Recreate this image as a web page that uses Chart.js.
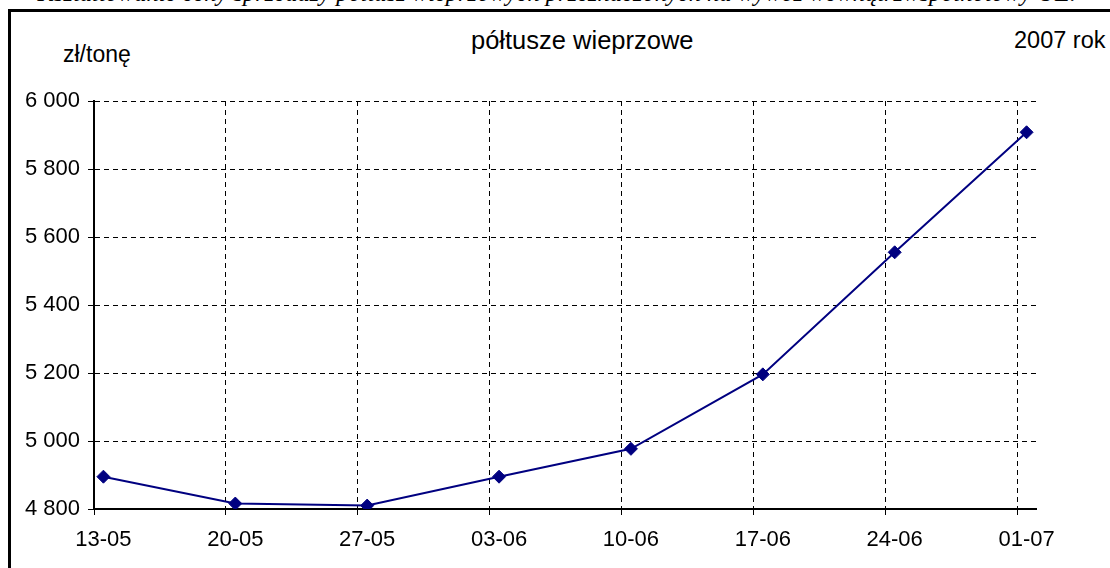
<!DOCTYPE html>
<html>
<head>
<meta charset="utf-8">
<script src="https://cdn.jsdelivr.net/npm/chart.js@4"></script>
<style>
body{margin:0;background:#fff;width:1110px;height:568px;overflow:hidden;position:relative;font-family:"Liberation Sans",Arial,sans-serif;}
#caption{position:absolute;right:34px;top:-20px;white-space:nowrap;font:italic 24.5px "Liberation Serif","Times New Roman",serif;line-height:25px;}
#frame{position:absolute;left:8px;top:9px;width:1200px;height:700px;border-left:3px solid #000;border-top:3px solid #000;}
.lbl{position:absolute;font-size:23px;line-height:23px;white-space:nowrap;color:#000;}
canvas{position:absolute;left:0;top:0;}
</style>
</head>
<body>
<div id="caption">Kształtowanie ceny sprzedaży półtusz wieprzowych przeznaczonych na wywóz wewnątrzwspólnotowy UE.</div>
<div id="frame"></div>
<div class="lbl" style="left:63px;top:43px;">zł/tonę</div>
<div class="lbl" style="left:471px;top:29px;font-size:25.5px;">półtusze wieprzowe</div>
<div class="lbl" style="left:1014px;top:29px;font-size:23.5px;">2007 rok</div>
<canvas id="chart" width="1110" height="568"></canvas>
<script>
// ================= DATA =================
const dateLabels = ["13-05", "20-05", "27-05", "03-06", "10-06", "17-06", "24-06", "01-07"];
const dayOffsets = [0, 7, 14, 21, 28, 35, 42, 49];   // days since 13-05
const prices = [4895, 4816, 4810, 4895, 4977, 5196, 5555, 5908];
const yTicks = [4800, 5000, 5200, 5400, 5600, 5800, 6000];

const navy = "#000080";
const font = {family: "'Liberation Sans', Arial, sans-serif", size: 22};

// excel date axis: each day is a slot, point sits in the middle of its day
const points = dayOffsets.map((d, i) => ({x: d + 0.5, y: prices[i]}));

function fmt(v){
    return String(v).replace(/\B(?=(\d{3})+(?!\d))/g, " ");
}

const gridOpts = {
    color: "#000",
    lineWidth: 1,
    tickLength: 6,
    tickColor: "#000",
    tickBorderDash: [],
    tickWidth: 1
};

// ================= CHART =================
const ctx = document.getElementById("chart").getContext("2d");

new Chart(ctx, {
    type: "line",
    data: {
        datasets: [{
            label: "półtusze wieprzowe",
            data: points,
            borderColor: navy,
            backgroundColor: navy,
            borderWidth: 2,
            pointStyle: "rectRot",
            pointRadius: 6.5,
            pointBorderWidth: 1,
            pointBorderColor: navy,
            tension: 0,
            xAxisID: "x",
            yAxisID: "y"
        }]
    },
    options: {
        responsive: false,
        animation: false,
        layout: {padding: {top: 101, right: 74, bottom: 0, left: 0}},
        plugins: {legend: {display: false}, tooltip: {enabled: false}},
        scales: {
            x: {
                type: "linear",
                min: 0,
                max: 50,
                weight: 0,
                afterBuildTicks: s => { s.ticks = dayOffsets.map(v => ({value: v})); },
                ticks: {display: false},
                grid: gridOpts,
                border: {display: true, color: "#000", width: 2, dash: [5, 4]}
            },
            xl: {
                type: "linear",
                position: "bottom",
                min: 0,
                max: 50,
                weight: 1,
                afterBuildTicks: s => { s.ticks = dayOffsets.map(v => ({value: v + 0.5})); },
                afterFit: s => { s.height = 53; },
                ticks: {
                    color: "#000",
                    font: font,
                    padding: 12,
                    maxRotation: 0,
                    autoSkip: false,
                    callback: (v, i) => dateLabels[i]
                },
                grid: {display: false, drawTicks: false},
                border: {display: false}
            },
            y: {
                min: 4800,
                max: 6000,
                afterBuildTicks: s => { s.ticks = yTicks.map(v => ({value: v})); },
                afterFit: s => { s.width = 94; },
                ticks: {
                    color: "#000",
                    font: font,
                    padding: 8,
                    callback: v => fmt(v)
                },
                grid: gridOpts,
                border: {display: true, color: "#000", width: 2, dash: [5, 4]}
            }
        }
    }
});
</script>
</body>
</html>
